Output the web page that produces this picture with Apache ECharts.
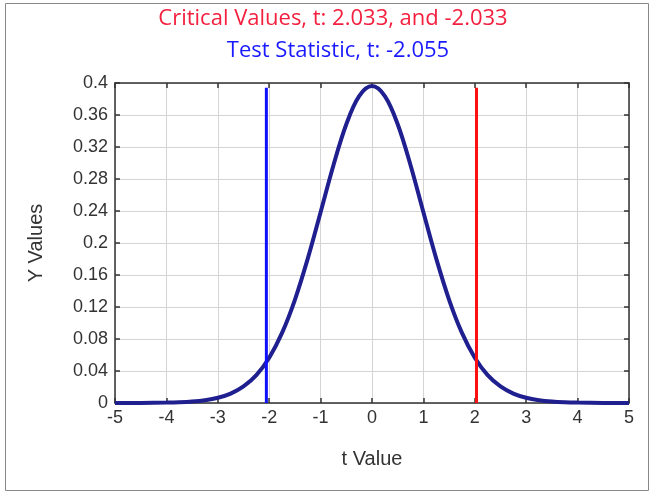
<!DOCTYPE html>
<html>
<head>
<meta charset="utf-8">
<script src="https://cdn.jsdelivr.net/npm/echarts@6/dist/echarts.min.js"></script>
<style>
html,body{margin:0;padding:0;background:#fff;}
#c{width:653px;height:495px;}
</style>
</head>
<body>
<div id="c"></div>
<script>
// t values and density values
var tValues = [-5, -4.5, -4, -3.75, -3.5, -3.25, -3, -2.75, -2.5, -2.25, -2, -1.75, -1.5, -1.25, -1, -0.75, -0.5, -0.25, 0,
               0.25, 0.5, 0.75, 1, 1.25, 1.5, 1.75, 2, 2.25, 2.5, 2.75, 3, 3.25, 3.5, 3.75, 4, 4.5, 5];
var yValues = [0, 0.0001, 0.0005, 0.0009, 0.0018, 0.0035, 0.0065, 0.0118, 0.0207, 0.0349, 0.0566, 0.0876, 0.1290, 0.1804, 0.2384, 0.2972, 0.3484, 0.3835, 0.3961,
               0.3835, 0.3484, 0.2972, 0.2384, 0.1804, 0.1290, 0.0876, 0.0566, 0.0349, 0.0207, 0.0118, 0.0065, 0.0035, 0.0018, 0.0009, 0.0005, 0.0001, 0];
var testStatLine = [[-2.055, 0], [-2.055, 0.394]];
var criticalLine = [[2.033, 0], [2.033, 0.394]];
var titleText = 'Critical Values, t: 2.033, and -2.033';
var subtitleText = 'Test Statistic, t: -2.055';

var curve = tValues.map(function (t, i) { return [t, yValues[i]]; });

var chart = echarts.init(document.getElementById('c'), null, {renderer: 'canvas'});
var axisColor = '#333';
var labelStyle = {color: '#333', fontFamily: 'Liberation Sans, Arial, sans-serif', fontSize: 18};
chart.setOption({
  animation: false,
  backgroundColor: '#fff',
  graphic: [
    {type: 'rect', shape: {x: 5.5, y: 3.5, width: 643, height: 487}, style: {fill: 'none', stroke: '#888', lineWidth: 1}, silent: true},
    {type: 'text', x: 333, y: 19, style: {text: titleText, fill: '#f3203f', align: 'center', verticalAlign: 'middle', font: '22px "Open Sans", "Noto Sans", sans-serif'}},
    {type: 'text', x: 338, y: 51, style: {text: subtitleText, fill: '#1a1aff', align: 'center', verticalAlign: 'middle', font: '22px "Open Sans", "Noto Sans", sans-serif'}}
  ],
  grid: {left: 115, right: 24, top: 83, bottom: 92, containLabel: false},
  xAxis: [{
    type: 'value', min: -5, max: 5, interval: 1,
    name: 't Value', nameLocation: 'middle', nameGap: 46,
    nameTextStyle: {color: '#333', fontFamily: 'Liberation Sans, Arial, sans-serif', fontSize: 20},
    axisLine: {onZero: false, lineStyle: {color: axisColor, width: 1.5}},
    axisTick: {inside: true, length: 5, lineStyle: {color: axisColor, width: 1.5}},
    axisLabel: Object.assign({margin: 6}, labelStyle),
    splitLine: {show: true, lineStyle: {color: '#d4d4d4', width: 1}}
  }, {
    type: 'value', min: -5, max: 5, interval: 1, position: 'top',
    axisLine: {onZero: false, lineStyle: {color: axisColor, width: 1.5}},
    axisTick: {inside: true, length: 5, lineStyle: {color: axisColor, width: 1.5}},
    axisLabel: {show: false}, splitLine: {show: false}
  }],
  yAxis: [{
    type: 'value', min: 0, max: 0.4, interval: 0.04,
    name: 'Y Values', nameLocation: 'middle', nameGap: 69, nameRotate: 90,
    nameTextStyle: {color: '#333', fontFamily: 'Liberation Sans, Arial, sans-serif', fontSize: 20},
    axisLine: {onZero: false, lineStyle: {color: axisColor, width: 1.5}},
    axisTick: {inside: true, length: 5, lineStyle: {color: axisColor, width: 1.5}},
    axisLabel: Object.assign({margin: 7, formatter: function (v) { return String(+v.toFixed(2)); }}, labelStyle),
    splitLine: {show: true, lineStyle: {color: '#d4d4d4', width: 1}}
  }, {
    type: 'value', min: 0, max: 0.4, interval: 0.04, position: 'right',
    axisLine: {onZero: false, lineStyle: {color: axisColor, width: 1.5}},
    axisTick: {inside: true, length: 5, lineStyle: {color: axisColor, width: 1.5}},
    axisLabel: {show: false}, splitLine: {show: false}
  }],
  series: [
    {type: 'line', data: curve, smooth: 0.35, showSymbol: false, lineStyle: {color: '#1f1f8f', width: 4}, z: 3},
    {type: 'line', data: testStatLine, showSymbol: false, lineStyle: {color: '#1010ff', width: 3}, z: 4},
    {type: 'line', data: criticalLine, showSymbol: false, lineStyle: {color: '#ff1010', width: 3}, z: 4}
  ]
});
</script>
</body>
</html>
